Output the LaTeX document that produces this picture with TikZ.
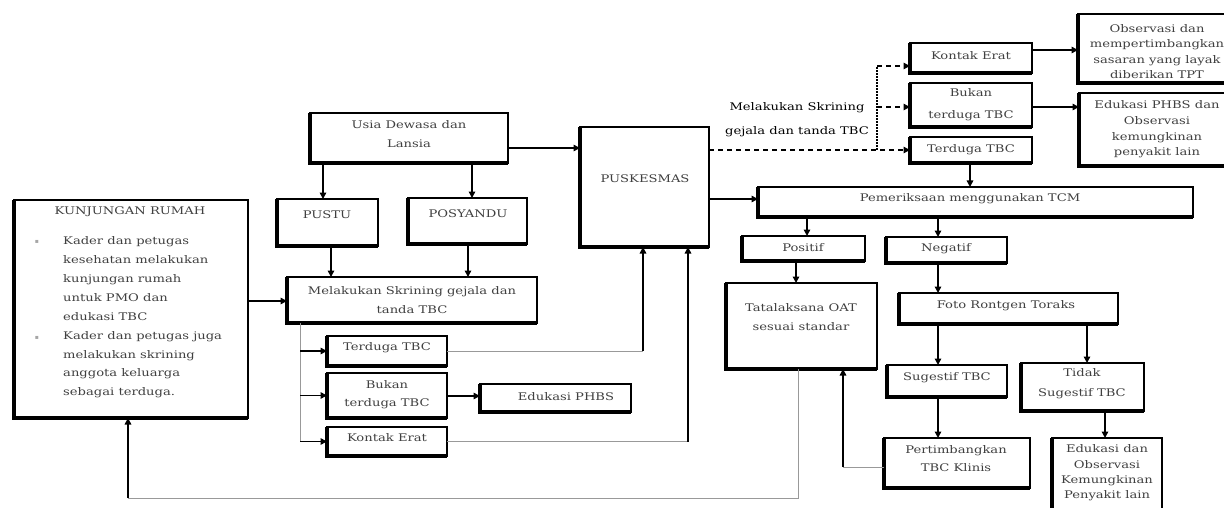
\documentclass[tikz,border=0pt]{standalone}
\usepackage{fontspec}
\setmainfont{DejaVu Serif}[FakeStretch=1.25]
\newfontfamily\symfont{DejaVu Sans}
\usetikzlibrary{arrows.meta}

% box drawn by its corners: thin top/right, heavy left/bottom edge
\newcommand\tbox[5]{%
  \node[boxs, minimum width={(#4-#2)*1pt}, minimum height={(#5-#3)*1pt}]
    (#1) at ({(#2+#4)/2},{(#3+#5)/2}) {};
  \draw[boxedge] (#1.north west) -- (#1.south west) -- (#1.south east);
}

\begin{document}
\begin{tikzpicture}[x=1pt,y=-1pt,
  boxs/.style={draw=black, line width=1.5pt, fill=white, outer sep=0pt, inner sep=0pt},
  boxedge/.style={draw=black, line width=3.2pt},
  txt/.style={font=\fontsize{10.5}{17}\selectfont, text=black!75, align=center, inner sep=0pt},
  lbl/.style={font=\fontsize{10.5}{24.5}\selectfont, text=black, align=center, inner sep=0pt},
  bul/.style={font=\symfont\fontsize{6}{6}\selectfont, text=black!35, inner sep=0pt},
  tip/.style={-{Triangle[length=6.5pt,width=6.5pt]}},
  arr/.style={draw=black, line width=1.5pt, tip},
  pale/.style={draw=black!40, line width=0.9pt},
  dsh/.style={draw=black, line width=1.3pt, dash pattern=on 5pt off 4pt},
  dot/.style={draw=black, line width=1.3pt, dash pattern=on 1.5pt off 1.5pt}
]
\useasboundingbox (0,0) rectangle (1224,508);
\clip (0,0) rectangle (1224,508);

% ---------- boxes ----------
\tbox{kunj}{14}{200}{248}{418}
\tbox{usia}{310}{113}{508}{163}
\tbox{pustu}{277}{199}{378}{246}
\tbox{posy}{408}{198}{527}{244}
\tbox{skr}{287}{277}{537}{323}
\tbox{pusk}{580}{127}{709}{247}
\tbox{terdB}{327}{336}{447}{366}
\tbox{bukB}{327}{373}{447}{418}
\tbox{eduB}{480}{384}{631}{412}
\tbox{kontB}{327}{427}{447}{456}
\tbox{kontA}{910}{43}{1032}{73}
\tbox{bukA}{910}{83}{1032}{127}
\tbox{terdA}{910}{137}{1032}{163}
\tbox{obs}{1078}{14}{1238}{83}
\tbox{eduA}{1079}{93}{1238}{166}
\tbox{pem}{758}{187}{1193}{217}
\tbox{pos}{742}{236}{865}{261}
\tbox{neg}{886}{237}{1007}{263}
\tbox{tata}{726}{283}{877}{369}
\tbox{foto}{899}{293}{1118}{324}
\tbox{sug}{887}{365}{1007}{397}
\tbox{tid}{1021}{363}{1144}{411}
\tbox{pert}{884}{438}{1030}{488}
\tbox{eduC}{1052}{438}{1162}{530}

% ---------- texts ----------
\node[txt] (kunj-t) at (130,212) {KUNJUNGAN RUMAH};
\node[bul] (kunj-b1) at (37,242) {▪};
\node[bul] (kunj-b2) at (37,338) {▪};
\node[txt, align=left, anchor=north west, font=\fontsize{10.5}{18.9}\selectfont]
  (kunj-l) at (63,236.5) {Kader dan petugas\\kesehatan melakukan\\kunjungan rumah\\untuk PMO dan\\edukasi TBC\\Kader dan petugas juga\\melakukan skrining\\anggota keluarga\\sebagai terduga.};
\node[txt, font=\fontsize{10.5}{19}\selectfont] (usia-t) at (409,134.5) {Usia Dewasa dan\\Lansia};
\node[txt] (pustu-t) at (327,215) {PUSTU};
\node[txt] (posy-t) at (468,214) {POSYANDU};
\node[txt, font=\fontsize{10.5}{19}\selectfont] (skr-t) at (412,300.5) {Melakukan Skrining gejala dan\\tanda TBC};
\node[txt] (pusk-t) at (645,179) {PUSKESMAS};
\node[txt] (terdB-t) at (387,348) {Terduga TBC};
\node[txt, font=\fontsize{10.5}{18}\selectfont] (bukB-t) at (387,395) {Bukan\\terduga TBC};
\node[txt] (eduB-t) at (566,397) {Edukasi PHBS};
\node[txt] (kontB-t) at (387,438) {Kontak Erat};
\node[txt] (kontA-t) at (971,56) {Kontak Erat};
\node[txt, font=\fontsize{10.5}{22}\selectfont] (bukA-t) at (971,105) {Bukan\\terduga TBC};
\node[txt] (terdA-t) at (971,150) {Terduga TBC};
\node[txt, font=\fontsize{10.5}{15.6}\selectfont] (obs-t) at (1157,51.5) {Observasi dan\\mempertimbangkan\\sasaran yang layak\\diberikan TPT};
\node[txt, font=\fontsize{10.5}{15.6}\selectfont] (eduA-t) at (1157,129.5) {Edukasi PHBS dan\\Observasi\\kemungkinan\\penyakit lain};
\node[txt] (pem-t) at (970,199) {Pemeriksaan menggunakan TCM};
\node[txt] (pos-t) at (803,248) {Positif};
\node[txt] (neg-t) at (946,249) {Negatif};
\node[txt, font=\fontsize{10.5}{19}\selectfont] (tata-t) at (801,317.5) {Tatalaksana OAT\\sesuai standar};
\node[txt] (foto-t) at (1006,306) {Foto Rontgen Toraks};
\node[txt] (sug-t) at (947,378) {Sugestif TBC};
\node[txt, font=\fontsize{10.5}{20}\selectfont] (tid-t) at (1082,384) {Tidak\\Sugestif TBC};
\node[txt, font=\fontsize{10.5}{18}\selectfont] (pert-t) at (956,459) {Pertimbangkan\\TBC Klinis};
\node[txt, font=\fontsize{10.5}{15.3}\selectfont] (eduC-t) at (1107,473) {Edukasi dan\\Observasi\\Kemungkinan\\Penyakit lain};
\node[lbl] (scr-lbl) at (797,119.5) {Melakukan Skrining\\gejala dan tanda TBC};

% ---------- connectors: left part ----------
\draw[arr] (kunj.east |- 0,301) -- (skr.west |- 0,301);
\draw[arr] (usia.east |- 0,148) -- (pusk.west |- 0,148);
\draw[arr] (usia.south -| 323,0) -- (pustu.north -| 323,0);
\draw[arr] (usia.south -| 472,0) -- (posy.north -| 472,0);
\draw[arr] (pustu.south -| 331,0) -- (skr.north -| 331,0);
\draw[arr] (posy.south -| 468,0) -- (skr.north -| 468,0);

\draw[pale] (skr.south -| 300,0) -- (kontB.west -| 300,0);
\draw[arr] (terdB.west -| 300,0) -- (terdB.west);
\draw[arr] (bukB.west -| 300,0) -- (bukB.west);
\draw[arr] (kontB.west -| 300,0) -- (kontB.west);
\draw[arr] (bukB.east |- 0,396) -- (eduB.west |- 0,396);

\draw[pale] (terdB.east) -- (terdB.east -| 643,0);
\draw[arr] (terdB.east -| 643,0) -- (pusk.south -| 643,0);
\draw[pale] (kontB.east) -- (kontB.east -| 688,0);
\draw[arr] (kontB.east -| 688,0) -- (pusk.south -| 688,0);

% ---------- connectors: screening branch ----------
\coordinate (split) at (877,150);
\coordinate (splittop) at (877,66);
\draw[dsh, tip] (pusk.east |- split) -- (terdA.west |- split);
\draw[dot] (split) -- (splittop);
\draw[dsh, tip] (splittop) -- (kontA.west |- splittop);
\draw[dsh, tip] (split |- 0,107) -- (bukA.west |- 0,107);
\draw[arr] (kontA.east |- 0,50) -- (obs.west |- 0,50);
\draw[arr] (bukA.east |- 0,107) -- (eduA.west |- 0,107);

% ---------- connectors: TCM branch ----------
\draw[arr] (terdA.south -| 970,0) -- (pem.north -| 970,0);
\draw[arr] (pusk.east |- 0,199) -- (pem.west |- 0,199);
\draw[arr] (pem.south -| 807,0) -- (pos.north -| 807,0);
\draw[arr] (pem.south -| 938,0) -- (neg.north -| 938,0);
\draw[arr] (pos.south -| 796,0) -- (tata.north -| 796,0);
\draw[arr] (neg.south -| 938,0) -- (foto.north -| 938,0);
\draw[arr] (foto.south -| 938,0) -- (sug.north -| 938,0);
\draw[arr] (foto.south -| 1087,0) -- (tid.north -| 1087,0);
\draw[arr] (sug.south -| 938,0) -- (pert.north -| 938,0);
\draw[arr] (tid.south -| 1105,0) -- (eduC.north -| 1105,0);

\coordinate (ptk) at (843,467);
\draw[pale] (pert.west |- ptk) -- (ptk);
\draw[arr] (ptk) -- (tata.south -| ptk);

% ---------- feedback to home visit ----------
\coordinate (fb1) at (798,498);
\coordinate (fb2) at (128,498);
\draw[pale] (tata.south -| fb1) -- (fb1) -- (fb2);
\draw[arr] (fb2) -- (kunj.south -| fb2);
\end{tikzpicture}
\end{document}
